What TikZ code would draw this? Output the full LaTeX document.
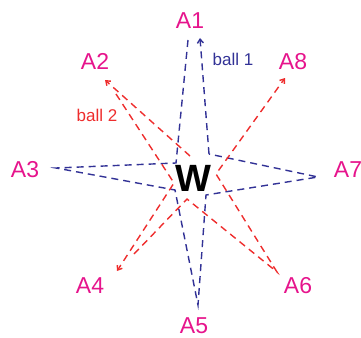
\documentclass[tikz,border=0pt]{standalone}
\usepackage{fontspec}
\setmainfont{Liberation Sans}
\usepackage{xcolor}
\usetikzlibrary{arrows.meta}
\definecolor{labelpink}{RGB}{230,20,140}
\definecolor{passblue}{RGB}{50,50,150}
\definecolor{passred}{RGB}{238,45,45}

\begin{document}
\begin{tikzpicture}[
  x=1pt, y=-1pt,
  player/.style={text=labelpink, font=\fontsize{23}{23}\selectfont, anchor=base, inner sep=0pt},
  pass/.style={draw=#1, line width=1.4pt, dash pattern=on 7pt off 5pt},
  pass/.default=passblue,
  arr/.style={-{Straight Barb[length=4pt, width=6pt]}},
]
  \useasboundingbox (0,0) rectangle (361,337);

  % players
  \node[player] (A1) at (190,29)  {A1};
  \node[player] (A2) at (95,70)   {A2};
  \node[player] (A8) at (293,70)  {A8};
  \node[player] (A3) at (25,177)  {A3};
  \node[player] (A7) at (348,177) {A7};
  \node[player] (A4) at (90,293)  {A4};
  \node[player] (A6) at (298,293) {A6};
  \node[player] (A5) at (194,333) {A5};
  \node[anchor=base, inner sep=0pt, font=\fontsize{38}{38}\selectfont\bfseries] (W) at (193,191) {W};

  \node[anchor=base, inner sep=0pt, text=passblue, font=\fontsize{17}{17}\selectfont] (b1) at (233,66)  {ball 1};
  \node[anchor=base, inner sep=0pt, text=passred,  font=\fontsize{17}{17}\selectfont] (b2) at (97,121)  {ball 2};

  % ball 1 ends and turns
  \coordinate (a1r) at (200,38);
  \coordinate (a1l) at (188,40);
  \coordinate (a3)  at (56,168);
  \coordinate (a5)  at (198,305);
  \coordinate (a7)  at (318,177);
  \coordinate (c1)  at (176,163);
  \coordinate (c2)  at (209,154);
  \coordinate (c3)  at (206,195);
  \coordinate (c4)  at (175,190);

  % ball 2 ends and turns
  \coordinate (a2u) at (105,80);
  \coordinate (a2l) at (116,94);
  \coordinate (a4o) at (117,271);
  \coordinate (a4i) at (134,254);
  \coordinate (a6)  at (277,272);
  \coordinate (a8)  at (285,78);
  \coordinate (c5)  at (190,156);
  \coordinate (c6)  at (174,183);
  \coordinate (c7)  at (187,199);
  \coordinate (c8)  at (216,174);

  % passes
  \draw[pass, arr] (c2) -- (a1r);
  \draw[pass] (a1l) -- (c1) -- (a3) -- (c4) -- (a5) -- (c3) -- (a7) -- (c2);

  \draw[pass=passred, arr] (c5) -- (a2u);
  \draw[pass=passred, arr] (a2l) -- (c6) -- (a4o);
  \draw[pass=passred, arr] (a4i) -- (c7) -- (a6) -- (c8) -- (a8);
\end{tikzpicture}
\end{document}
